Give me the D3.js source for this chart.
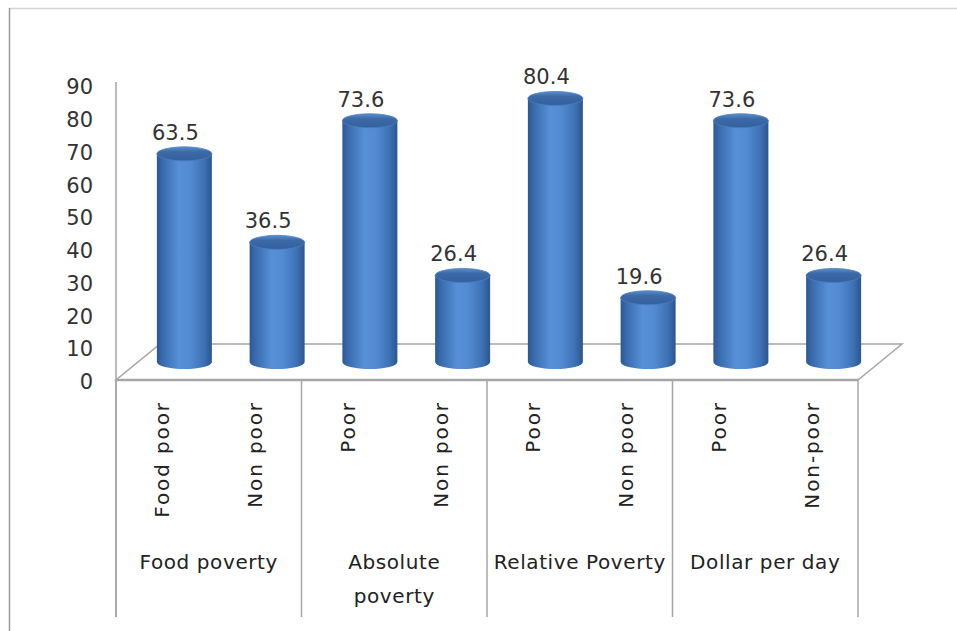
<!DOCTYPE html>
<html>
<head>
<meta charset="utf-8">
<script src="https://cdn.jsdelivr.net/npm/d3@7"></script>
<style>
html,body{margin:0;padding:0;background:#fff;}
svg{display:block;font-family:"DejaVu Sans",Verdana,sans-serif;}
</style>
</head>
<body>
<svg id="chart" width="957" height="631"></svg>
<script>
const groups = ["Food poverty", "Absolute\npoverty", "Relative Poverty", "Dollar per day"];
const categories = ["Food poor", "Non poor", "Poor", "Non poor", "Poor", "Non poor", "Poor", "Non-poor"];
const values = [63.5, 36.5, 73.6, 26.4, 80.4, 19.6, 73.6, 26.4];
const yTicks = [0, 10, 20, 30, 40, 50, 60, 70, 80, 90];

const svg = d3.select("#chart");
const W = 957, H = 631;
const left = 116, right = 858, floorY = 380, topY = 85, bottomY = 617;
const depthX = 44, depthY = -36;

const x = d3.scaleBand().domain(d3.range(categories.length)).range([left, right]).paddingInner(0).paddingOuter(0);
const y = d3.scaleLinear().domain([0, 90]).range([floorY, topY]);
const gx = d3.scaleBand().domain(d3.range(groups.length)).range([left, right]);

const grey = "#a6a6a6";

// outer frame
svg.append("line").attr("x1", 9).attr("x2", W).attr("y1", 8.5).attr("y2", 8.5).attr("stroke", "#d4d4d4").attr("stroke-width", 1.5);
svg.append("line").attr("x1", 9.5).attr("x2", 9.5).attr("y1", 8).attr("y2", H).attr("stroke", "#9a9a9a").attr("stroke-width", 1.5);

// defs: cylinder gradient
const defs = svg.append("defs");
const gBody = defs.append("linearGradient").attr("id", "body").attr("x1", "0").attr("x2", "1").attr("y1", "0").attr("y2", "0");
[[0, "#2c5892"], [0.12, "#3a6db0"], [0.4, "#5790d6"], [0.6, "#538bd2"], [0.85, "#3e72b6"], [1, "#2b5690"]]
  .forEach(([o, c]) => gBody.append("stop").attr("offset", o).attr("stop-color", c));
const gTop = defs.append("linearGradient").attr("id", "top").attr("x1", "0").attr("x2", "0").attr("y1", "0").attr("y2", "1");
[[0, "#5a8fd0"], [0.35, "#3c6aa7"], [1, "#34609c"]]
  .forEach(([o, c]) => gTop.append("stop").attr("offset", o).attr("stop-color", c));

// floor
const floor = [[left, floorY], [right, floorY], [right + depthX, floorY + depthY], [left + depthX, floorY + depthY]];
svg.append("path").attr("d", d3.line()(floor) + "Z").attr("fill", "#fff").attr("stroke", grey).attr("stroke-width", 1.5);

// y axis
const yAxis = d3.axisLeft(y).tickValues(yTicks).tickSize(0).tickPadding(23).tickFormat(d3.format("d"));
const ya = svg.append("g").attr("transform", `translate(${left},2)`).call(yAxis);
ya.select(".domain").remove();
ya.selectAll("text").attr("font-size", 21).attr("fill", "#333").attr("font-family", "DejaVu Sans, Verdana, sans-serif");
svg.append("line").attr("x1", left).attr("x2", left).attr("y1", 82).attr("y2", bottomY).attr("stroke", grey).attr("stroke-width", 1.5);

// cylinders
const rx = 27.5, ry = 7;
const cx = i => x(i) + x.bandwidth() / 2 + depthX / 2;
const base = y(0) + depthY / 2;
const topC = v => y(v) + depthY / 2;
const bars = svg.append("g").selectAll("g").data(values).join("g");
bars.append("path")
  .attr("d", (d, i) => {
    const c = cx(i), t = topC(d);
    return `M${c - rx},${t} L${c - rx},${base} A${rx},${ry} 0 0 0 ${c + rx},${base} L${c + rx},${t} Z`;
  })
  .attr("fill", "url(#body)");
bars.append("ellipse")
  .attr("cx", (d, i) => cx(i)).attr("cy", d => topC(d))
  .attr("rx", rx).attr("ry", ry)
  .attr("fill", "url(#top)").attr("stroke", "#4a7fc0").attr("stroke-width", 0.8);

// value labels
svg.append("g").selectAll("text").data(values).join("text")
  .attr("x", (d, i) => cx(i) - 9)
  .attr("y", d => topC(d) - 14)
  .attr("text-anchor", "middle")
  .attr("font-size", 21).attr("fill", "#333")
  .text(d => d3.format(".1f")(d));

// floor front edge (double)
svg.append("line").attr("x1", left).attr("x2", right).attr("y1", floorY).attr("y2", floorY).attr("stroke", grey).attr("stroke-width", 2.5);

// group separators
d3.range(groups.length + 1).forEach(g => {
  const xx = g < groups.length ? gx(g) : right;
  svg.append("line").attr("x1", xx).attr("x2", xx).attr("y1", floorY).attr("y2", bottomY).attr("stroke", grey).attr("stroke-width", 1.5);
});

// category labels (rotated)
svg.append("g").selectAll("text").data(categories).join("text")
  .attr("transform", (d, i) => `translate(${x(i) + x.bandwidth() / 2 + 7},401) rotate(-90)`)
  .attr("text-anchor", "end")
  .attr("font-size", 20).attr("letter-spacing", 1.9).attr("fill", "#222")
  .text(d => d);

// group labels
const gl = svg.append("g").selectAll("text").data(groups).join("text")
  .attr("x", (d, i) => gx(i) + gx.bandwidth() / 2)
  .attr("y", 569)
  .attr("text-anchor", "middle")
  .attr("font-size", 20).attr("letter-spacing", 0.6).attr("fill", "#222");
gl.each(function(d) {
  const lines = d.split("\n");
  const t = d3.select(this);
  const xx = t.attr("x");
  lines.forEach((l, k) => t.append("tspan").attr("x", xx).attr("dy", k === 0 ? 0 : 34).text(l));
});
</script>
</body>
</html>
